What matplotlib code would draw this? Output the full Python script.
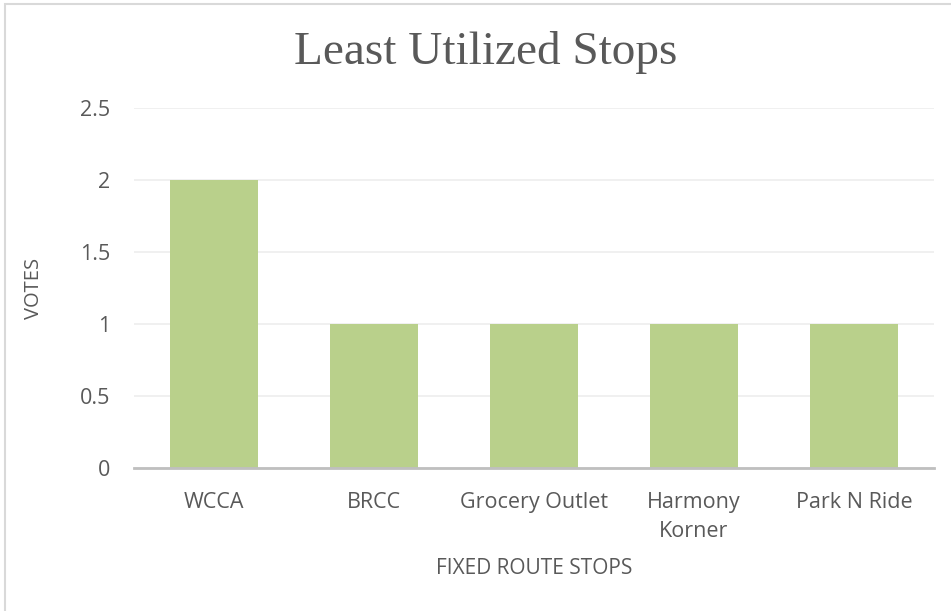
import matplotlib.pyplot as plt
from matplotlib.patches import Rectangle
import numpy as np

stops = ["WCCA", "BRCC", "Grocery Outlet", "Harmony\nKorner", "Park N Ride"]
votes = [2, 1, 1, 1, 1]
yticks = [0, 0.5, 1, 1.5, 2, 2.5]
ytick_labels = ["0", "0.5", "1", "1.5", "2", "2.5"]

text_color = "#595959"
bar_color = "#B9D08B"

fig = plt.figure(figsize=(9.51, 6.11), dpi=100)
fig.patches.append(Rectangle((5 / 951, -0.1), 1.2, 1.1 - 4 / 611, transform=fig.transFigure,
                             fill=False, edgecolor="#D9D9D9", linewidth=1.5))

ax = fig.add_axes([134 / 951, 1 - 468 / 611, 800 / 951, 360 / 611])
x = np.arange(len(stops))
ax.bar(x, votes, width=0.55, color=bar_color, zorder=3)

ax.set_xlim(-0.5, len(stops) - 0.5)
ax.set_ylim(0, 2.5)
ax.set_yticks(yticks)
ax.set_yticklabels(ytick_labels)
ax.set_xticks(x)
ax.set_xticklabels(stops, linespacing=1.55)
ax.grid(axis="y", color="#EEEEEE", linewidth=1.2, zorder=0)

for s in ["top", "right", "left"]:
    ax.spines[s].set_visible(False)
ax.spines["bottom"].set_color("#BFBFBF")
ax.spines["bottom"].set_linewidth(2)
ax.spines["bottom"].set_zorder(4)

ax.tick_params(axis="both", length=0, labelcolor=text_color, labelsize=15.5)
ax.tick_params(axis="x", pad=17)
ax.tick_params(axis="y", pad=17)
for lbl in ax.get_xticklabels() + ax.get_yticklabels():
    lbl.set_fontfamily("Open Sans")

ax.set_xlabel("FIXED ROUTE STOPS", fontsize=15, color=text_color, family="Open Sans", labelpad=11)
ax.set_ylabel("VOTES", fontsize=14.5, color=text_color, family="Open Sans", labelpad=26)

fig.text(486 / 951, 1 - 52 / 611, "Least Utilized Stops", ha="center", va="center",
         fontsize=34, color=text_color, family="Liberation Serif")

fig.savefig("out.png", dpi=100)
